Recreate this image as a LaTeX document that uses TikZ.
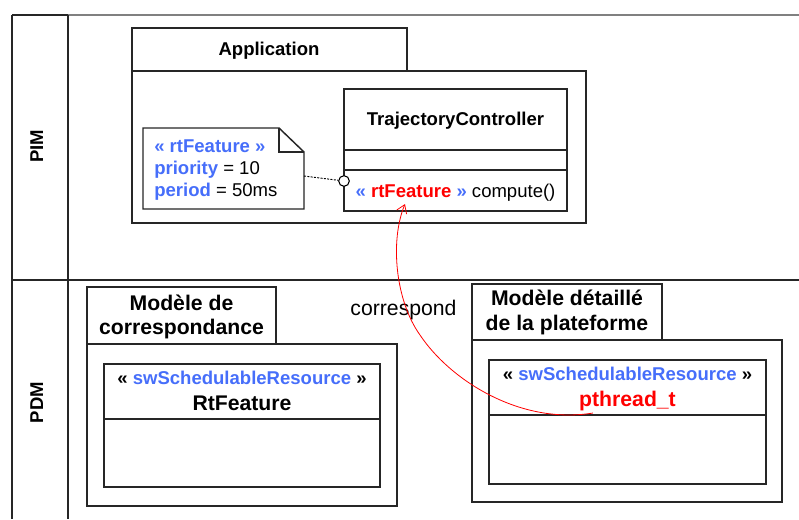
\documentclass[tikz,border=0pt]{standalone}
\usepackage{fontspec}
\setmainfont{Liberation Sans}
\usepackage{xcolor}
\usetikzlibrary{calc,arrows.meta}

\definecolor{stereoblue}{RGB}{70,110,250}
\definecolor{mapred}{RGB}{255,0,0}
\newcommand{\txtsize}{\fontsize{13.9}{16.7}\selectfont}
\newcommand{\namesize}{\fontsize{15.9}{18.4}\selectfont}
\newcommand{\stereo}[1]{\textcolor{stereoblue}{#1}}

\begin{document}
\begin{tikzpicture}[
    x=0.75pt,
    y=-0.75pt,
    >=Latex,
    every node/.style={font=\txtsize, inner sep=0pt},
    umlbox/.style={draw=black!85, line width=1.1pt},
    laneline/.style={draw=black!85, line width=0.9pt},
    boldname/.style={font=\txtsize\bfseries, anchor=base},
    pkgname/.style={font=\namesize\bfseries, anchor=base}
]

\useasboundingbox (0,0) rectangle (799,519);

% Lanes
\draw[gray, line width=1.2pt] (68,15) -- (799,15);
\draw[laneline] (12,15) -- (68,15);
\draw[laneline] (12,15) -- (12,519);
\draw[laneline] (68,15) -- (68,519);
\draw[laneline] (12,280) -- (799,280);

\node[boldname, rotate=90] (pim) at (43,146.5) {PIM};
\node[boldname, rotate=90] (pdm) at (43,402.5) {PDM};

% Application package
\draw[umlbox] (132,28) rectangle (407,71);
\draw[umlbox] (132,71) rectangle (586,223);
\node[boldname] (app) at (269,55) {Application};

% TrajectoryController class
\draw[umlbox] (344,89) rectangle (567,211);
\draw[umlbox] (344,150) -- (567,150);
\draw[umlbox] (344,170) -- (567,170);
\node[boldname] (traj) at (455.5,125) {TrajectoryController};
\node[anchor=base] (compute) at (455.5,197.3)
    {\textbf{\stereo{«} \textcolor{mapred}{rtFeature} \stereo{»}} compute()};

% Note
\draw[umlbox, fill=white]
    (143,128) -- (279,128) -- (304,152) -- (304,209) -- (143,209) -- cycle;
\draw[umlbox] (279,128) -- (279,152) -- (304,152);
\node[anchor=base west] (notestereo) at (154,152)
    {\textbf{\stereo{« rtFeature »}}};
\node[anchor=base west] (notepriority) at (154,174.3)
    {\textbf{\stereo{priority}} = 10};
\node[anchor=base west] (noteperiod) at (154,196.7)
    {\textbf{\stereo{period}} = 50ms};

% Note attachment
\coordinate (noteport) at (304,176);
\node[circle, draw=black, line width=0.8pt, fill=white,
    minimum size=8pt] (port) at (344,181) {};
\draw[dash pattern=on 1.5pt off 1pt, line width=0.7pt] (noteport) -- (port);

% Modele de correspondance package
\draw[umlbox] (87,287) rectangle (276,344);
\draw[umlbox] (87,344) rectangle (397,506);
\node[pkgname] (corrname) at (181.5,310) {Modèle de};
\node[pkgname] (corrname2) at ($(corrname.base)+(0,24)$) {correspondance};

\draw[umlbox] (104,364) rectangle (380,487);
\draw[umlbox] (104,419) -- (380,419);
\node[anchor=base] (rtstereo) at (242,384)
    {\textbf{« \stereo{swSchedulableResource} »}};
\node[pkgname] (rtfeature) at (242,410.7) {RtFeature};

% Modele detaille de la plateforme package
\draw[umlbox] (472,284) rectangle (662,340);
\draw[umlbox] (472,340) rectangle (782,502);
\node[pkgname] (platname) at (567,305) {Modèle détaillé};
\node[pkgname] (platname2) at ($(platname.base)+(0,25)$) {de la plateforme};

\draw[umlbox] (489,360) rectangle (766,484);
\draw[umlbox] (489,415) -- (766,415);
\node[anchor=base] (ptstereo) at (627.5,380.7)
    {\textbf{« \stereo{swSchedulableResource} »}};
\node[pkgname, text=mapred] (pthread) at (627.5,406.7) {pthread\_t};

% Mapping
\node[anchor=base, font=\namesize] (corresp) at (403.5,315) {correspond};
\coordinate (mapsrc) at ($(pthread.base west)+(14,6.3)$);
\coordinate (maptgt) at (405,204);
\draw[mapred, line width=0.6pt, -{Straight Barb[length=6pt, width=8pt]}]
    (mapsrc) .. controls (520,425) and (450,380) .. (420,335)
    .. controls (395,300) and (390,240) .. (maptgt);

\end{tikzpicture}
\end{document}
